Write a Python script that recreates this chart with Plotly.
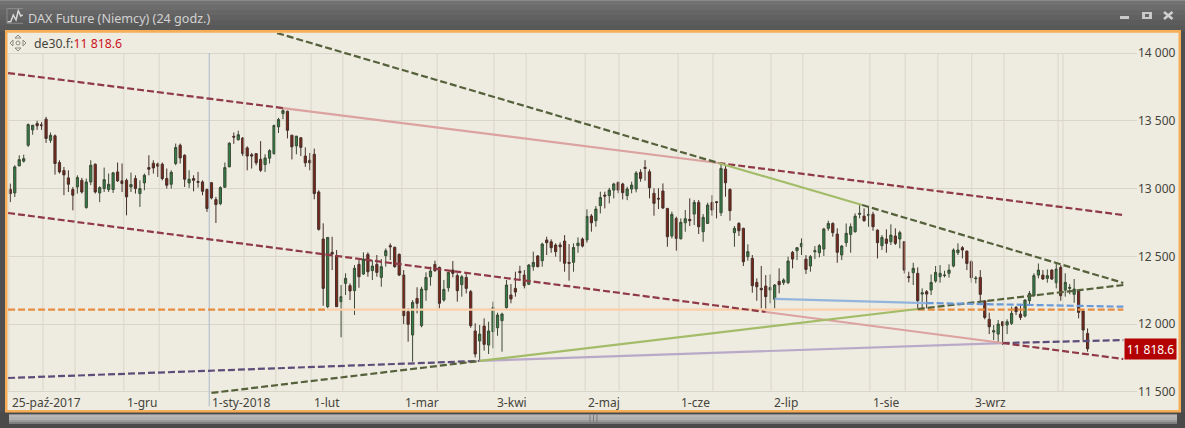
import plotly.graph_objects as go

# ---------- data ----------
open_ = [12993,12968,13167,13202,13320,13433,13480,13472,13512,13356,
13389,13192,13133,13079,12993,13012,13061,12860,13049,13180,
12968,13000,12993,12993,13123,13057,13061,13012,13074,12963,
13042,13155,13187,13182,13180,13074,13032,13185,13320,13246,
13042,13074,13052,13049,12993,13044,12919,12889,13010,13160,
13385,13360,13373,13300,13250,13258,13216,13177,13224,13258,
13455,13553,13570,13394,13315,13375,13240,13209,13253,12975,
12628,12129,12530,12505,12166,12301,12284,12247,12441,12370,
12515,12395,12441,12345,12505,12579,12567,12515,
12362,12092,11920,12190,11989,12252,12350,12441,12419,12178,
12269,12399,12358,12291,12345,12240,11950,11876,11986,11846,
11945,11974,12026,12122,12215,12264,12390,12362,12294,12424,
12503,12468,12621,12608,12584,12584,12613,12456,12456,12579,
12628,12621,12798,12763,12874,12952,12948,12989,13046,13034,
12948,12997,12997,13120,13156,13124,12965,12928,12982,12854,
12650,12780,12630,12748,12773,12812,12898,12682,12743,12898,
12903,12822,13144,12994,12675,12743,12707,12498,12485,12308,
12264,12281,12252,12183,12316,12306,12306,12530,12542,
12571,12480,12429,12534,12527,12554,12707,12743,12665,12510,
12601,12662,12682,12810,12797,12802,12810,12694,12579,12628,
12608,12650,12628,12608,12350,12380,12375,12222,12240,12252,
12318,12350,12358,12375,12429,12527,12564,12539,12461,12335,
12345,12171,12036,11942,11927,12018,11994,12006,12124,12075,
12060,12173,12210,12362,12362,12338,12399,12306,12419,12252,
12264,12220,12245,12097,11932]
close = [12963,13160,13214,13221,13472,13467,13463,13463,13370,13393,
13185,13123,13101,13032,12951,13081,12975,13049,13172,12975,
13007,13066,13032,13116,13057,13037,12939,13030,13000,13000,
13098,13143,13152,13165,13074,13025,13120,13303,13226,13069,
13069,13061,13047,12980,12853,12931,12882,13007,13155,13335,
13380,13397,13258,13240,13240,13190,13135,13226,13280,13465,
13509,13575,13430,13308,13387,13304,13190,13190,12963,12700,
12264,12640,12517,12129,12203,12338,12245,12412,12350,12480,
12387,12429,12382,12424,12542,12571,12424,12362,
12063,11999,12161,12154,12259,12345,12392,12394,12154,12257,
12382,12375,12247,12350,12264,11989,11780,11927,11851,11950,
12122,12068,12075,12289,12186,12237,12380,12284,12436,12456,
12424,12591,12601,12564,12535,12571,12449,12449,12566,12598,
12576,12795,12748,12849,12935,12945,12989,13034,12989,12970,
12997,13026,13115,13075,13149,13006,12891,12923,12857,12645,
12810,12633,12751,12778,12763,12898,12719,12788,12879,12842,
12898,13149,13043,12837,12707,12689,12461,12535,12284,12276,
12254,12203,12271,12289,12291,12326,12466,12480,12564,
12596,12404,12498,12542,12579,12702,12743,12675,12530,12576,
12670,12719,12797,12817,12763,12810,12719,12601,12640,12596,
12657,12596,12675,12399,12345,12412,12173,12232,12222,12308,
12382,12375,12362,12399,12547,12547,12547,12448,12343,12340,
12220,12050,11981,11952,12001,11989,12018,12080,12092,12050,
12178,12227,12358,12399,12333,12358,12333,12407,12210,12308,
12271,12259,12087,11957,11818.6]
high = [13037,13172,13246,13250,13480,13470,13500,13490,13529,13413,
13399,13209,13160,13135,13012,13098,13079,13074,13209,13185,
13017,13155,13111,13123,13192,13185,13074,13118,13098,13061,
13111,13246,13209,13192,13192,13148,13135,13332,13332,13253,
13135,13098,13123,13061,13000,13049,12939,13017,13192,13342,
13414,13427,13380,13312,13263,13258,13350,13253,13290,13472,
13522,13595,13575,13394,13387,13380,13304,13263,13295,12988,
12744,12640,12645,12547,12289,12375,12301,12436,12473,12530,
12530,12473,12510,12480,12559,12596,12572,12522,
12399,12117,12178,12272,12276,12382,12424,12468,12424,12326,
12387,12466,12375,12362,12375,12252,12006,11994,12043,12018,
12166,12085,12085,12326,12296,12387,12431,12399,12444,12535,
12510,12601,12645,12626,12596,12603,12657,12591,12596,12640,
12640,12847,12812,12871,12977,12977,13006,13043,13051,13043,
13014,13051,13129,13142,13210,13142,13002,13002,13038,12854,
12830,12793,12780,12842,12928,12916,12916,12812,12896,12952,
12908,13191,13166,13002,12724,12753,12711,12589,12510,12338,
12429,12362,12367,12296,12412,12338,12498,12540,12567,
12633,12510,12510,12576,12591,12711,12763,12751,12707,12584,
12743,12743,12817,12879,12854,12866,12829,12699,12657,12699,
12736,12707,12689,12613,12387,12453,12419,12264,12252,12367,
12429,12436,12394,12441,12559,12596,12576,12542,12473,12355,
12399,12178,12085,11994,12031,12018,12036,12129,12134,12141,
12183,12245,12375,12448,12399,12404,12404,12453,12436,12375,
12296,12333,12249,12104,11969]
low = [12900,12938,13167,13192,13307,13397,13433,13433,13337,13337,
13103,13111,12951,12975,12840,12963,12963,12852,13025,12963,
12900,12975,12975,12968,13049,12975,12803,12975,12963,12865,
12988,13098,13111,13086,13061,13000,13000,13172,13185,13012,
13005,12980,13007,12951,12828,12921,12746,12877,13012,13160,
13330,13355,13240,13135,13148,13172,13123,13123,13185,13250,
13410,13512,13370,13215,13253,13240,13160,13135,12921,12690,
12136,12117,12399,12129,11903,12215,12178,12068,12269,12363,
12350,12326,12350,12276,12424,12473,12417,12355,
12001,11871,11723,12080,11977,12173,12284,12387,12117,12166,
12240,12345,12166,12203,12227,11974,11755,11736,11805,11780,
11822,11915,11797,12104,12154,12203,12326,12264,12289,12394,
12419,12424,12510,12527,12498,12461,12387,12321,12387,12527,
12566,12601,12682,12719,12817,12854,12891,12928,12965,12920,
12915,12965,12972,13051,13058,12928,12800,12849,12849,12571,
12633,12542,12625,12682,12724,12731,12665,12608,12739,12800,
12780,12798,12940,12763,12571,12650,12429,12468,12232,12173,
12117,12104,12154,12117,12227,12289,12296,12412,12473,
12510,12370,12387,12480,12493,12503,12689,12645,12453,12473,
12571,12527,12675,12780,12756,12719,12689,12485,12547,12527,
12584,12584,12559,12375,12308,12289,12112,12117,12117,12215,
12306,12306,12345,12343,12419,12510,12485,12399,12306,12301,
12158,12036,11927,11883,11859,11846,11927,11994,12067,12031,
12050,12141,12203,12338,12326,12306,12326,12264,12173,12203,
12220,12158,12043,11883,11797]

grid_x = [-0.3,7.3,14.5,25.4,33.3,52.3,59.4,67.3,74.4,87.6,95.5,108.2,115.4,128.6,
          136.2,149.4,157.2,170.2,177.3,192.3,200.2,207.5,215.1,222.3,234.4,235.5]
cursor_x = 44.5
y_ticks = [11500,12000,12500,13000,13500,14000]
y_labels = ["11 500","12 000","12 500","13 000","13 500","14 000"]
x_labels = ["25-paź-2017","1-gru","1-sty-2018","1-lut","1-mar","3-kwi","2-maj","1-cze","2-lip","1-sie","3-wrz"]
x_label_pos = [-0.3,25.4,44.5,67.3,87.6,108.2,128.6,149.4,170.2,192.3,215.1]

upper_x = [-0.5,61,158.4,249];   upper_y = [13852,13594,13189,12805]
lower_x = [-0.5,169,222,249];    lower_y = [12820,12090,11861,11743]
fall_x  = [59.7,158.4,190.6,249]; fall_y = [14147,13189,12879,12304]
rise_x  = [45,105,203,249];      rise_y = [11493,11729,12112,12289]
purp_x  = [-0.5,105,222,249];    purp_y = [11603,11729,11861,11883]
orng_x  = [-0.5,70.8,203,249];   orng_y = [12107,12107,12107,12107]
blue_x  = [171,205,249];         blue_y = [12186,12156,12129]

last_price = 11818.6

# ---------- geometry ----------
W, H = 1185, 428
L, R, T, B = 8, 1137, 33, 410
PANEL = "#eeebe0"; GRID = "#d9d6c9"; TXT = "#45443c"
px = lambda x: (x - L) / (R - L)
py = lambda y: (B - y) / (B - T)

fig = go.Figure()

# vertical grid
gx, gy = [], []
for v in grid_x:
    gx += [v, v, None]; gy += [11500, 14000, None]
fig.add_trace(go.Scatter(x=gx, y=gy, mode="lines", line=dict(color=GRID, width=1), hoverinfo="skip", showlegend=False))
fig.add_trace(go.Scatter(x=[cursor_x, cursor_x], y=[11395, 14000], mode="lines",
                         line=dict(color="#a9b9cc", width=1), hoverinfo="skip", showlegend=False))

# candles
fig.add_trace(go.Candlestick(x=list(range(len(open_))), open=open_, high=high, low=low, close=close,
    increasing=dict(line=dict(color="#3c4a34", width=1), fillcolor="#2f8048"),
    decreasing=dict(line=dict(color="#45302a", width=1), fillcolor="#7d2416"),
    whiskerwidth=0, showlegend=False, hoverinfo="skip"))

def seg(xs, ys, styles):
    for i, (c, d) in enumerate(styles):
        fig.add_trace(go.Scatter(x=xs[i:i+2], y=ys[i:i+2], mode="lines",
                                 line=dict(color=c, width=2.2, dash=d), hoverinfo="skip", showlegend=False))

DASH = "7px,3px"
seg(orng_x, orng_y, [("#e98d3f", DASH), ("#fbcfa9", "solid"), ("#e98d3f", DASH)])
seg(purp_x, purp_y, [("#5d4d7a", DASH), ("#b9a9c9", "solid"), ("#5d4d7a", DASH)])
seg(upper_x, upper_y, [("#8f3a46", DASH), ("#dba2a0", "solid"), ("#8f3a46", DASH)])
seg(lower_x, lower_y, [("#8f3a46", DASH), ("#dba2a0", "solid"), ("#8f3a46", DASH)])
seg(fall_x, fall_y, [("#55613a", DASH), ("#a3bc68", "solid"), ("#55613a", DASH)])
seg(rise_x, rise_y, [("#55613a", DASH), ("#a3bc68", "solid"), ("#55613a", DASH)])
seg(blue_x, blue_y, [("#93b5dd", "solid"), ("#6a9ad8", DASH)])

# ---------- window chrome ----------
shapes = []
def rect(x0, y0, x1, y1, fill, layer="below", line=None):
    shapes.append(dict(type="rect", xref="paper", yref="paper", x0=px(x0), x1=px(x1), y0=py(y1), y1=py(y0),
                       fillcolor=fill, line=dict(width=0) if line is None else line, layer=layer))
def path(points, color, width=1, fill=None, layer="above"):
    d = "M " + " L ".join(f"{px(a):.5f},{py(b):.5f}" for a, b in points)
    shapes.append(dict(type="path", xref="paper", yref="paper", path=d, fillcolor=fill,
                       line=dict(color=color, width=width), layer=layer))

for y0, y1, c in [(0,5,"#727272"),(5,10,"#6c6c6c"),(10,15,"#666666"),(15,20,"#616161"),(20,25,"#5c5c5c"),(25,31,"#585858")]:
    rect(0, y0, W, y1, c)
rect(0, 0, W, 1, "#8a8a8a")
rect(0, 31, 5, H, "#4f4f4f"); rect(1181, 31, W, H, "#4f4f4f")
rect(0, 412, W, H, "#4a4a4a")
rect(5, 30, 1181, 412.5, "#f6ad57")
rect(7.5, 32.7, 1178.5, 410, PANEL)
# scrollbar
for y0, y1, c in [(414,415,"#8c8c8c"),(415,417,"#b8b8b8"),(417,420,"#b0b0b0"),(420,422,"#9a9a9a"),(422,424,"#7e7e7e")]:
    rect(9, y0, 1177, y1, c)
for gxp in (590, 593.5, 597):
    path([(gxp,414.5),(gxp,423)], "#7a7a7a", 1)
# title icon
path([(7.3,21.7),(10.7,21.7),(13.3,15),(16,20),(18.3,10.7),(20.7,16),(22.7,15)], "#d8d8d8", 1.5)
path([(7,8.5),(23,8.5)], "#8a8a8a", 1); path([(7,23.3),(23,23.3)], "#8a8a8a", 1); path([(7,8.5),(7,23.3)], "#8a8a8a", 1)
# window buttons
rect(1120, 16, 1129, 19, "#c9c9c9", layer="above")
rect(1142, 12, 1152, 19, "#c9c9c9", layer="above"); rect(1145, 14, 1149, 17, "#666666", layer="above")
path([(1164,12),(1172.5,19)], "#d0d0d0", 2.5); path([(1172.5,12),(1164,19)], "#d0d0d0", 2.5)
# move icon
path([(15,38),(18,35),(21,38),(15,38)], "#8b8a80", 1)
path([(15,48),(18,51),(21,48),(15,48)], "#8b8a80", 1)
path([(13,40),(10,43),(13,46),(13,40)], "#8b8a80", 1)
path([(23,40),(26,43),(23,46),(23,40)], "#8b8a80", 1)
shapes.append(dict(type="circle", xref="paper", yref="paper", x0=px(16), x1=px(20), y0=py(45), y1=py(41),
                   line=dict(color="#8b8a80", width=1), layer="above"))

# ---------- text ----------
ann = []
FONT = "Noto Sans"
for lab, pos in zip(x_labels, x_label_pos):
    ann.append(dict(x=pos, xref="x", y=py(402), yref="paper", text=lab, showarrow=False, xanchor="left", yanchor="middle",
                    xshift=1, font=dict(family=FONT, size=12, color=TXT)))
ann.append(dict(x=px(26), xref="paper", y=py(18), yref="paper", text="DAX Future (Niemcy) (24 godz.)", showarrow=False,
                xanchor="left", yanchor="middle", font=dict(family=FONT, size=12.6, color="#d2d2d2")))
ann.append(dict(x=px(32), xref="paper", y=py(43), yref="paper",
                text='de30.f:<span style="color:#cc1122">11 818.6</span>', showarrow=False,
                xanchor="left", yanchor="middle", font=dict(family=FONT, size=12.3, color=TXT)))
ann.append(dict(x=px(1150), xref="paper", y=last_price, yref="y", text=f"{last_price:,.1f}".replace(",", " "),
                showarrow=False, xanchor="center", yanchor="middle", bgcolor="#b30000", width=49, height=18,
                font=dict(family=FONT, size=12, color="#ffffff")))

fig.update_layout(
    width=W, height=H, margin=dict(l=L, r=W-R, t=T, b=H-B, autoexpand=False),
    paper_bgcolor="#5c5c5c", plot_bgcolor=PANEL, showlegend=False, hovermode=False,
    shapes=shapes, annotations=ann,
    xaxis=dict(range=[(L-10.3)/4.47, (R-10.3)/4.47], showgrid=False, zeroline=False, showticklabels=False,
               ticks="", rangeslider=dict(visible=False), showline=False),
    yaxis=dict(range=[14000-(B-53)*7.375, 14000+(53-T)*7.375], side="right", tickvals=y_ticks, ticktext=y_labels, ticks="",
               showgrid=True, gridcolor=GRID, gridwidth=1, zeroline=False, showline=False,
               tickfont=dict(family=FONT, size=12, color=TXT)),
)

fig.write_html("out.html", config={"displayModeBar": False},
               post_script="document.body.style.margin='0';document.body.style.overflow='hidden';")
